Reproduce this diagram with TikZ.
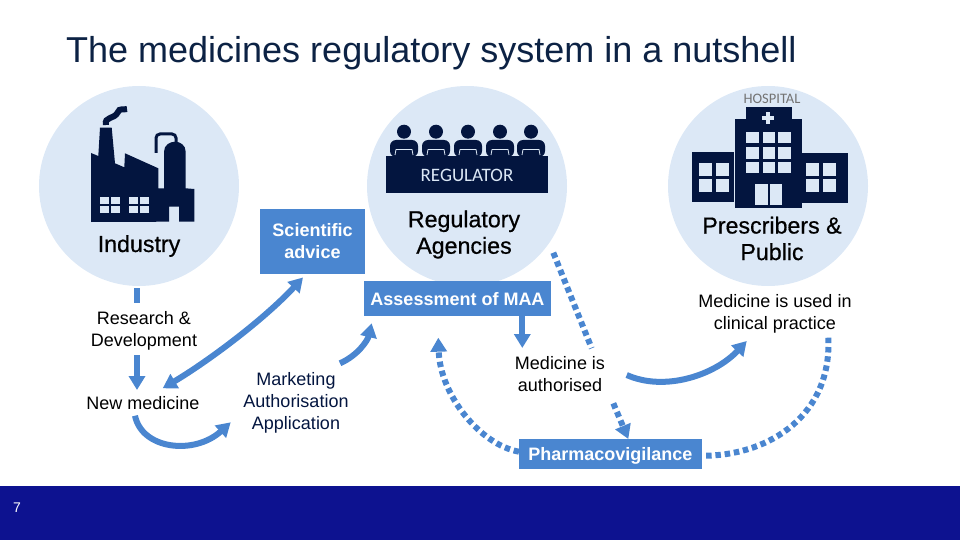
\documentclass[tikz,border=0pt]{standalone}
\usepackage{fontspec}
\setmainfont{Liberation Sans}
\newfontfamily\carlitofont{Carlito}
\newfontfamily\heavyfont[FakeBold=0.6]{Liberation Sans}
\usetikzlibrary{arrows.meta,positioning}
\definecolor{skyfill}{HTML}{DCE8F6}
\definecolor{boxblue}{HTML}{4A86D0}
\definecolor{navy}{HTML}{03153F}
\definecolor{footerblue}{HTML}{0D1290}
\definecolor{titleink}{HTML}{0C2244}
\tikzset{
  topiccircle/.style={circle, fill=skyfill, minimum size=200pt, inner sep=0pt},
  bluebox/.style={
    rectangle, fill=boxblue, text=white, inner sep=0pt,
    minimum width=#1, align=center,
    font=\fontsize{18}{22}\selectfont\bfseries
  },
  steptext/.style={
    inner sep=0pt, align=center, text=#1,
    font=\fontsize{18}{21.7}\selectfont
  },
  steptext/.default=black,
  actortext/.style={
    inner sep=0pt, align=center,
    font=\heavyfont\fontsize{23.2}{26.5}\selectfont
  },
  flowarrow/.style={
    -{Triangle[length=14pt,width=16pt]}, line width=6pt, color=boxblue
  },
  flowline/.style={line width=6pt, color=boxblue},
  dotarrow/.style={
    flowline, dash pattern=on 5.5pt off 3.8pt
  },
  dotarrowhead/.style={
    dotarrow, -{Triangle[length=14pt,width=16pt]}
  },
}
\begin{document}
\begin{tikzpicture}[x=1pt,y=-1pt]
  \useasboundingbox (0,0) rectangle (960,540);
  \node[anchor=west, inner sep=0pt, text=titleink, font=\fontsize{36}{38}\selectfont] (title) at (66,53) {The medicines regulatory system in a nutshell};

  \node[topiccircle] (industry) at (139,186) {};
  \node[topiccircle] (regulator) at (467,186) {};
  \node[topiccircle] (hospital) at (768,186) {};
  \fill[footerblue] (0,486) rectangle (960,540);
  \node[text=white, inner sep=0pt, font=\fontsize{14}{15}\selectfont] (pageno) at (17,508) {7};

  % factory
  \fill[navy] (91,222) -- (91,153) -- (98.3,156) -- (100,127.7) -- (111.7,127.7) -- (115,163.3) -- (124.3,167.3) -- (125,153.3) -- (158.3,168.3) -- (158.3,188.3) -- (164,188.3) -- (164,151.7) .. controls (164,145) and (170,141.7) .. (175,141.7) .. controls (180,141.7) and (185.7,145) .. (185.7,151.7) -- (185.7,188.3) -- (194.3,189) -- (194.3,221.7) -- (179,221.7) -- (179,206.7) -- (169,206.7) -- (169,221.7) -- cycle;
  \draw[navy, line width=3pt, rounded corners=4pt] (156,153) -- (156,134) -- (176,134) -- (176,143);
  \draw[navy, line width=6pt] (106,125) .. controls (104,116) and (114,120) .. (118,112) .. controls (119,108) and (124,110) .. (127,109);
  \foreach \wx in {100,129} {
    \fill[skyfill] (\wx,197.3) rectangle ++(19.5,15.4);
    \draw[navy, line width=1.5pt] (\wx+9.75,197.3) -- ++(0,15.4) (\wx,205) -- ++(19.5,0);
  }

  % regulator panel
  \foreach \px in {404,436,468,500,531} {
    \fill[navy] (\px,131.7) circle (7pt);
    \fill[navy, rounded corners=6pt] (\px-14,157) -- (\px-14,140) -- (\px+14,140) -- (\px+14,157) -- cycle;
    \draw[skyfill, line width=0.8pt] (\px-9,155) -- (\px-8,149.5) -- (\px+8,149.5) -- (\px+9,155);
  }
  \fill[navy] (386,156) rectangle (548.3,193.3);
  \node[text=skyfill, inner sep=0pt, font=\carlitofont\fontsize{19}{22}\selectfont] (regname) at (467,175) {REGULATOR};

  % hospital
  \fill[navy] (745.7,107.3) rectangle (791.7,119);
  \fill[navy] (735,119) rectangle (802.3,207.7);
  \fill[navy] (692,152.3) rectangle (734,201.7);
  \fill[navy] (802.3,153.3) rectangle (847.7,202.7);
  \fill[skyfill] (765.7,112) rectangle ++(4.5,12);
  \fill[skyfill] (762,115.8) rectangle ++(12,4.5);
  \foreach \wx in {746.3,762.7,778.3} {
    \foreach \wy in {131.7,147.3,161.7} {
      \fill[skyfill] (\wx,\wy) rectangle ++(12.3,11.3);
    }
  }
  \fill[skyfill] (755,184) rectangle (768.3,205);
  \fill[skyfill] (770,184) rectangle (782.3,205);
  \foreach \wx in {699,715.7,806.3,823} {
    \foreach \wy in {163.3,178.6} {
      \fill[skyfill] (\wx,\wy) rectangle ++(13,13);
    }
  }
  \node[text=black!55, inner sep=0pt, font=\carlitofont\fontsize{14.5}{16}\selectfont] (hospname) at (772,98.5) {HOSPITAL};

  \node[actortext] (indname) at (139,246) {Industry};
  \node[actortext] (agencies) at (464,234.5) {Regulatory\\Agencies};
  \node[actortext] (prescribers) at (772,238.5) {Prescribers \&\\Public};

  \node[bluebox=105pt, minimum height=64.7pt] (sciadvice) at (312.5,241.3) {Scientific\\advice};
  \node[bluebox=187pt, minimum height=35pt, text height=15pt] (assess) at (457.5,298.5) {Assessment of MAA};
  \node[bluebox=182.7pt, minimum height=29.4pt, text height=17pt] (vigilance) at (610.3,454) {Pharmacovigilance};

  \node[steptext] (rnd) at (144,330.5) {Research \&\\Development};
  \node[steptext] (newmed) at (143,403) {New medicine};
  \node[steptext=navy] (maa) at (296,403) {Marketing\\Authorisation\\Application};
  \node[steptext] (authorised) at (560,374) {Medicine is\\authorised};
  \node[steptext] (used) at (775,313.5) {Medicine is used in\\clinical practice};

  \draw[flowline] ([shift={(-2.5,2)}]industry.south) -- ([shift={(-7.5,-27.5)}]rnd.center);
  \draw[flowarrow] ([shift={(-7,24.5)}]rnd.center) -- ([shift={(-6,-13)}]newmed.center);
  \draw[flowarrow, {Triangle[length=14pt,width=16pt]}-{Triangle[length=14pt,width=16pt]}] ([shift={(19.7,-14.7)}]newmed.center) .. controls +(47,-28) and +(-38,41) .. ([shift={(-9.5,3.6)}]sciadvice.south);
  \draw[flowarrow] ([shift={(-8,12.7)}]newmed.center) .. controls +(7,34) and +(-36,33) .. ([shift={(-65.3,19.3)}]maa.center);
  \draw[flowarrow] ([shift={(44,-39.7)}]maa.center) .. controls +(18,-8) and +(-4,17) .. ([shift={(-85.8,24.8)}]assess.center);
  \draw[flowarrow] ([shift={(64.8,17.5)}]assess.center) -- ([shift={(-37.7,-26)}]authorised.center);
  \draw[dotarrow] ([shift={(86.3,66.7)}]regulator.center) -- ([shift={(31.7,-25.7)}]authorised.center);
  \draw[flowarrow] ([shift={(66.7,1)}]authorised.center) .. controls +(38.3,17) and +(-31.7,34) .. ([shift={(-28.3,27.5)}]used.center);
  \draw[dotarrowhead] ([shift={(53.3,29.3)}]authorised.center) -- ([shift={(18,-15)}]vigilance.center);
  \draw[dotarrowhead] ([shift={(-91.3,-2.3)}]vigilance.center) .. controls +(-39,-7) and +(1.7,57) .. ([shift={(-19.2,39.2)}]assess.center);
  \draw[dotarrow] ([shift={(53.3,24.2)}]used.center) .. controls +(3.7,77) and +(65,-.7) .. ([shift={(94.7,1.7)}]vigilance.center);
\end{tikzpicture}
\end{document}
